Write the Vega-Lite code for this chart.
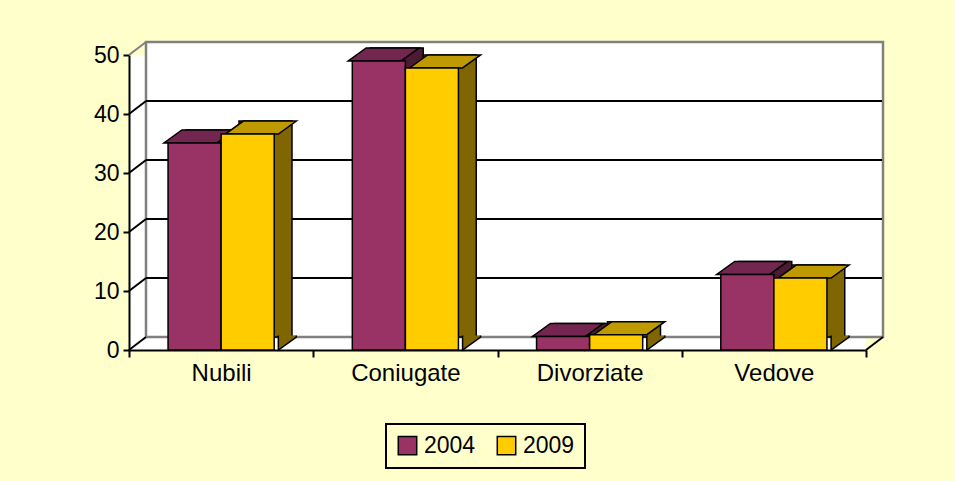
{
  "$schema": "https://vega.github.io/schema/vega-lite/v6.json",
  "width": 737,
  "height": 295,
  "autosize": "none",
  "padding": {"left": 129, "top": 55, "right": 89, "bottom": 131},
  "background": "#FFFFCC",
  "config": {
    "view": {"stroke": null, "fill": "white"},
    "font": "Liberation Sans"
  },
  "datasets": {
    "bars": [
      {"cat": "Nubili", "year": "2004", "v": 35.1},
      {"cat": "Nubili", "year": "2009", "v": 36.6},
      {"cat": "Coniugate", "year": "2004", "v": 49.0},
      {"cat": "Coniugate", "year": "2009", "v": 47.8},
      {"cat": "Divorziate", "year": "2004", "v": 2.3},
      {"cat": "Divorziate", "year": "2009", "v": 2.6},
      {"cat": "Vedove", "year": "2004", "v": 12.8},
      {"cat": "Vedove", "year": "2009", "v": 12.2}
    ],
    "grid": [{"v": 10}, {"v": 20}, {"v": 30}, {"v": 40}],
    "levels": [{"v": 0}, {"v": 10}, {"v": 20}, {"v": 30}, {"v": 40}, {"v": 50}]
  },
  "resolve": {"scale": {"x": "independent", "y": "independent"}, "axis": {"x": "independent", "y": "independent"}},
  "layer": [
    {
      "layer": [
        {
          "data": {"values": [{}]},
          "mark": {"type": "rect", "fill": "white", "stroke": "#808080", "strokeWidth": 2.5, "xOffset": 17, "x2Offset": 17, "yOffset": -13, "y2Offset": -13},
          "encoding": {
            "x": {"datum": 0, "type": "quantitative", "scale": {"domain": [0, 1]}, "axis": null},
            "x2": {"datum": 1},
            "y": {"datum": 0, "type": "quantitative", "scale": {"domain": [0, 50]}, "axis": null},
            "y2": {"datum": 50}
          }
        },
        {
          "data": {"name": "grid"},
          "mark": {"type": "rule", "color": "black", "strokeWidth": 2, "xOffset": 17, "x2Offset": 16, "yOffset": -13},
          "encoding": {
            "x": {"datum": 0, "type": "quantitative", "scale": {"domain": [0, 1]}, "axis": null},
            "x2": {"datum": 1},
            "y": {"field": "v", "type": "quantitative", "axis": null}
          }
        },
        {
          "data": {"name": "levels"},
          "mark": {"type": "rule", "strokeWidth": 2, "x2Offset": 17, "y2Offset": -13},
          "encoding": {
            "x": {"datum": 0, "type": "quantitative", "scale": {"domain": [0, 1]}, "axis": null},
            "x2": {"datum": 0},
            "y": {"field": "v", "type": "quantitative", "axis": null},
            "y2": {"field": "v"},
            "color": {"condition": {"test": "datum.v === 50", "value": "#808080"}, "value": "black"}
          }
        },
        {
          "data": {"values": [{}]},
          "mark": {"type": "rule", "strokeWidth": 2, "color": "black", "x2Offset": 17, "y2Offset": -13},
          "encoding": {
            "x": {"datum": 1, "type": "quantitative", "scale": {"domain": [0, 1]}, "axis": null},
            "x2": {"datum": 1},
            "y": {"datum": 0, "type": "quantitative", "axis": null},
            "y2": {"datum": 0}
          }
        }
      ]
    },
    {
      "data": {"name": "bars"},
      "resolve": {"scale": {"xOffset": "independent"}},
      "encoding": {
        "x": {
          "field": "cat", "type": "nominal", "sort": null,
          "scale": {"paddingInner": 0, "paddingOuter": 0},
          "axis": {
            "title": null, "labelAngle": 0, "tickBand": "extent", "tickSize": 7, "tickWidth": 2, "tickColor": "black",
            "domainColor": "black", "domainWidth": 2, "labelFontSize": 24, "labelColor": "black", "labelPadding": 4,
            "labelFont": "Liberation Sans"
          }
        },
        "y": {
          "field": "v", "type": "quantitative", "stack": null,
          "scale": {"domain": [0, 50], "nice": false},
          "axis": {
            "title": null, "tickCount": 5, "tickSize": 6, "tickWidth": 2, "tickColor": "black",
            "domainColor": "black", "domainWidth": 2, "labelFontSize": 23, "labelColor": "black", "labelPadding": 4,
            "labelFont": "Liberation Sans"
          }
        }
      },
      "layer": [
        {
          "mark": {"type": "bar", "yOffset": -13, "y2Offset": -13, "stroke": "black", "strokeWidth": 1.5},
          "encoding": {
            "xOffset": {"field": "year", "type": "nominal", "scale": {"range": [18, 202], "paddingInner": 0, "paddingOuter": 0.736}},
            "y2": {"datum": 0},
            "fill": {"condition": {"test": "datum.year === '2004'", "value": "#4D1A33"}, "value": "#806600"}
          }
        },
        {
          "mark": {"type": "point", "shape": "M26.5,-14.5L26.5,0L44.5,-13L44.5,-14.5", "size": 4, "filled": true, "opacity": 1, "stroke": "black", "strokeWidth": 1.5},
          "encoding": {
            "xOffset": {"field": "year", "type": "nominal", "scale": {"type": "point", "padding": 1.236}},
            "y": {"datum": 0, "type": "quantitative"},
            "fill": {"condition": {"test": "datum.year === '2004'", "value": "#4D1A33"}, "value": "#806600"}
          }
        },
        {
          "mark": {"type": "point", "shape": "M-26.5,0L26.5,0L44.5,-13L-8.5,-13Z", "size": 4, "filled": true, "opacity": 1, "stroke": "black", "strokeWidth": 1.5},
          "encoding": {
            "xOffset": {"field": "year", "type": "nominal", "scale": {"type": "point", "padding": 1.236}},
            "fill": {"condition": {"test": "datum.year === '2004'", "value": "#732650"}, "value": "#BF9900"}
          }
        },
        {
          "mark": {"type": "bar", "stroke": "black", "strokeWidth": 1.5, "opacity": 1},
          "encoding": {
            "xOffset": {"field": "year", "type": "nominal", "scale": {"paddingInner": 0, "paddingOuter": 0.736}},
            "color": {
              "field": "year", "type": "nominal",
              "scale": {"domain": ["2004", "2009"], "range": ["#993366", "#FFCC00"]},
              "legend": {
                "title": null, "orient": "none", "legendX": 257, "legendY": 369, "direction": "horizontal",
                "strokeColor": "black", "fillColor": "#FFFFCC", "padding": 10,
                "symbolType": "square", "symbolSize": 340, "symbolStrokeColor": "black", "symbolStrokeWidth": 1.5,
                "symbolOpacity": 1, "labelFontSize": 23, "labelFont": "Liberation Sans", "labelColor": "black",
                "columnPadding": 18, "labelOffset": 5,
                "encode": {"legend": {"update": {"strokeWidth": {"value": 2}}}}
              }
            }
          }
        }
      ]
    }
  ]
}
